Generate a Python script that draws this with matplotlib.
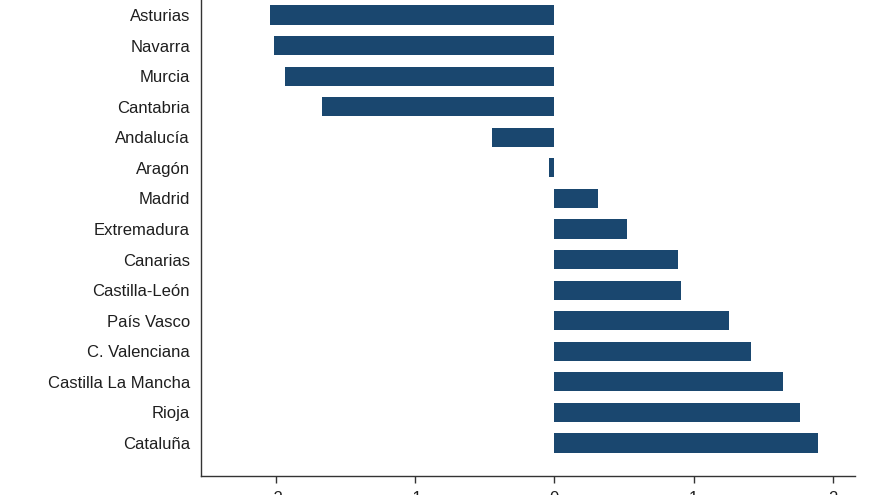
import matplotlib
matplotlib.use("Agg")
import matplotlib.pyplot as plt

plt.rcParams['font.family'] = ['Liberation Sans', 'DejaVu Sans']

regions = ["Asturias", "Navarra", "Murcia", "Cantabria", "Andalucía", "Aragón",
           "Madrid", "Extremadura", "Canarias", "Castilla-León", "País Vasco",
           "C. Valenciana", "Castilla La Mancha", "Rioja", "Cataluña"]
values = [-2.04, -2.01, -1.93, -1.67, -0.45, -0.04, 0.31, 0.52, 0.89, 0.91,
          1.25, 1.41, 1.64, 1.76, 1.89]
xticks = [-2, -1, 0, 1, 2]
xticklabels = ["-2", "-1", "0", "1", "2"]

fig = plt.figure(figsize=(8.8, 4.95), dpi=100)
ax = fig.add_axes([201/880, 19/495, (855-201)/880, 496/495])
ypos = list(range(len(regions)))
ax.barh(ypos, values, height=0.63, color="#1a476f", left=0)
ax.set_xlim(-2.535, 2.156)
ax.set_ylim(15.08, -1.145)
ax.set_yticks(ypos)
ax.set_yticklabels(regions, fontsize=12, color="#1e1e1e")
ax.tick_params(axis="y", length=0, pad=8)
ax.set_xticks(xticks)
ax.set_xticklabels(xticklabels, fontsize=12, color="#1e1e1e")
ax.tick_params(axis="x", length=5, width=1, pad=6, color="#333333")
for s in ["top", "right"]:
    ax.spines[s].set_visible(False)
for s in ["left", "bottom"]:
    ax.spines[s].set_color("#333333")
    ax.spines[s].set_linewidth(1)
fig.savefig("out.png", dpi=100)
